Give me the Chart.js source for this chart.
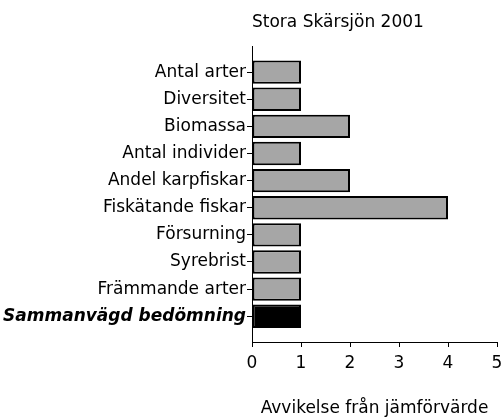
<!DOCTYPE html>
<html>
<head>
<meta charset="utf-8">
<script src="https://cdn.jsdelivr.net/npm/chart.js@4/dist/chart.umd.min.js"></script>
<style>
  html, body { margin: 0; padding: 0; background: #fff; }
  #wrap { width: 504px; height: 420px; }
</style>
</head>
<body>
<div id="wrap"><canvas id="c" width="504" height="420"></canvas></div>
<script>
const chartTitle = 'Stora Skärsjön 2001';
const axisTitle = 'Avvikelse från jämförvärde';
const categories = ['Antal arter', 'Diversitet', 'Biomassa', 'Antal individer', 'Andel karpfiskar',
  'Fiskätande fiskar', 'Försurning', 'Syrebrist', 'Främmande arter', 'Sammanvägd bedömning'];
const values = [1, 1, 2, 1, 2, 4, 1, 1, 1, 1];
const xTicks = [0, 1, 2, 3, 4, 5];

const FONT = 'DejaVu Sans';
const summaryIndex = categories.length - 1;

new Chart(document.getElementById('c'), {
  type: 'bar',
  data: {
    datasets: [{
      data: values.map((v, i) => ({ x: v, y: i })),
      backgroundColor: values.map((v, i) => i === summaryIndex ? '#000000' : '#a6a6a6'),
      borderColor: '#000000',
      borderWidth: 2,
      borderSkipped: false,
      barPercentage: 0.86,
      categoryPercentage: 1
    }]
  },
  options: {
    indexAxis: 'y',
    responsive: false,
    animation: false,
    layout: { padding: { left: 0, right: 7, top: 0, bottom: 0 } },
    plugins: {
      legend: { display: false },
      tooltip: { enabled: false },
      title: {
        display: true,
        text: chartTitle,
        align: 'start',
        fullSize: false,
        color: '#000',
        font: { family: FONT, size: 17, weight: 'normal' },
        padding: { top: 12, bottom: 14 }
      }
    },
    scales: {
      y: {
        type: 'linear',
        reverse: true,
        offset: false,
        min: -0.95,
        max: 9.95,
        afterFit: (s) => { s.width = 252; s.paddingTop = 0; s.paddingBottom = 0; },
        border: { display: true, color: '#000', width: 1 },
        grid: { display: true, offset: false, drawOnChartArea: false, tickLength: 5, color: '#000' },
        ticks: {
          stepSize: 1,
          includeBounds: false,
          autoSkip: false,
          padding: 1,
          color: '#000',
          font: (ctx) => (ctx.tick && ctx.tick.value === summaryIndex)
            ? { family: FONT, size: 17, weight: 'bold', style: 'italic' }
            : { family: FONT, size: 17 },
          callback: (v) => Number.isInteger(v) ? categories[v] : ''
        }
      },
      x: {
        type: 'linear',
        min: xTicks[0],
        max: xTicks[xTicks.length - 1],
        afterFit: (s) => { s.height = 78; s.paddingLeft = 0; s.paddingRight = 0; },
        border: { display: true, color: '#000', width: 1 },
        grid: { display: true, drawOnChartArea: false, tickLength: 5, color: '#000' },
        ticks: {
          stepSize: 1,
          padding: 6,
          color: '#000',
          font: { family: FONT, size: 17 },
          callback: (v) => xTicks.includes(v) ? String(v) : ''
        },
        title: {
          display: true,
          text: axisTitle,
          color: '#000',
          font: { family: FONT, size: 17 },
          padding: { top: 0, bottom: 1 }
        }
      }
    }
  }
});
</script>
</body>
</html>
